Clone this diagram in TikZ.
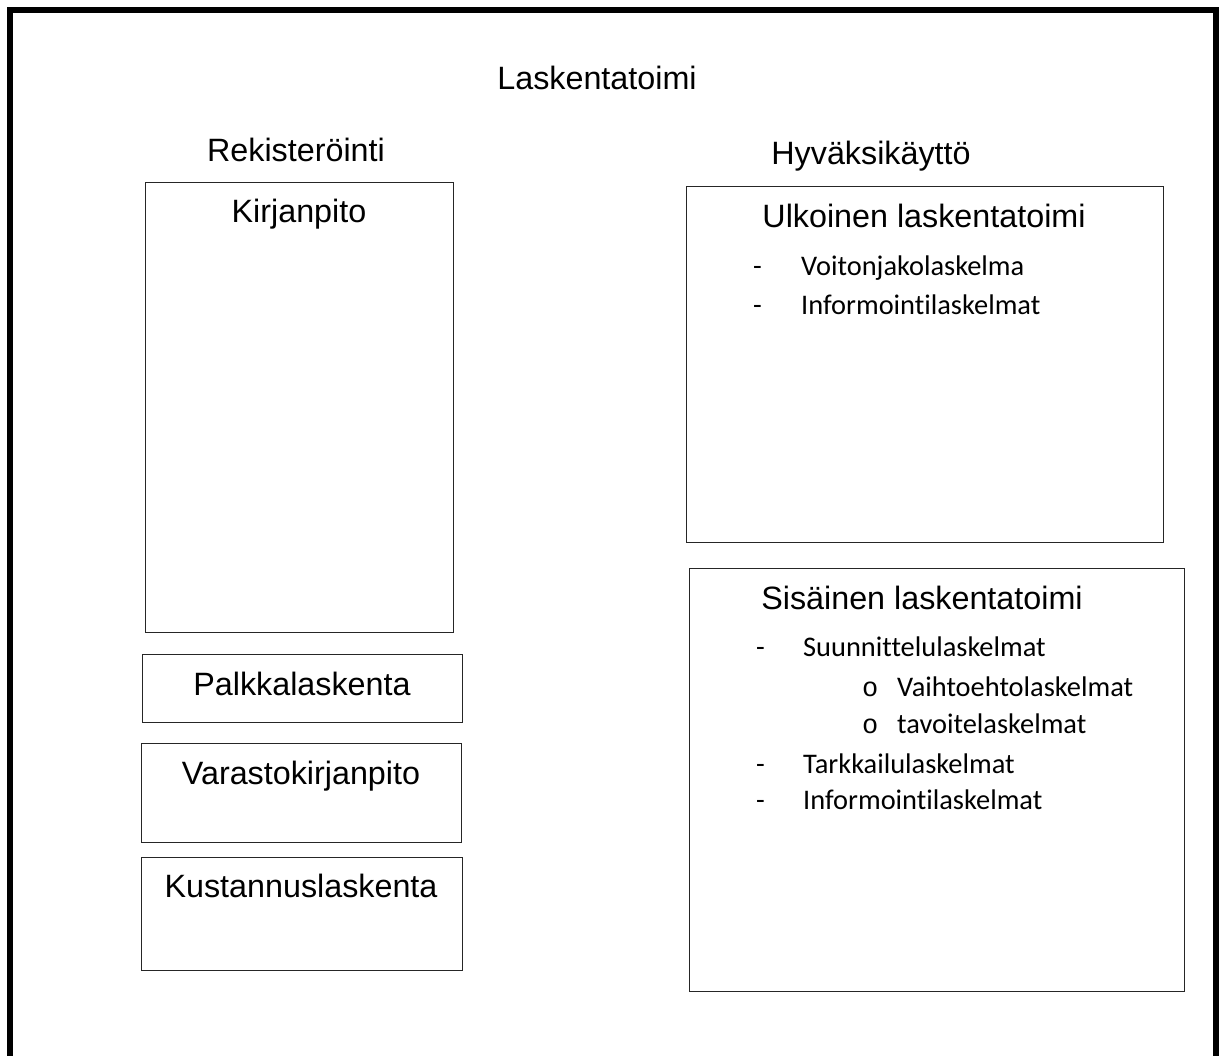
\documentclass[tikz,border=0pt]{standalone}
\usepackage{fontspec}
\setmainfont{Liberation Sans}
\newfontfamily\itemfont[Ligatures={NoCommon}]{Carlito}
\newfontfamily\monofont{Liberation Mono}
\tikzset{
  box/.style={draw=black!85, line width=1.2pt, rectangle, anchor=north west, inner sep=0pt},
  head/.style={anchor=base, inner sep=0pt, font=\fontsize{32.3}{38}\selectfont},
  itm/.style={anchor=mid west, inner sep=0pt, font=\itemfont\fontsize{28.4}{33}\selectfont},
  sub/.style={anchor=mid west, inner sep=0pt, font=\monofont\fontsize{27}{30}\selectfont},
}
\begin{document}
\begin{tikzpicture}[x=1pt,y=-1pt]
\useasboundingbox (0,0) rectangle (1222,1056);
\clip (0,0) rectangle (1222,1056);
\draw[line width=5.5pt] (10,1080) -- (10,10) -- (1216,10) -- (1216,1080);
\node[head] (title) at (597,90) {Laskentatoimi};
\node[head] (rek) at (296,162) {Rekisteröinti};
\node[head] (hyv) at (871,165) {Hyväksikäyttö};
% left boxes
\node[box, minimum width=308pt, minimum height=450pt] (kirj) at (145,182) {};
\node[head] (kirjt) at (299,223) {Kirjanpito};
\node[box, minimum width=320pt, minimum height=68pt] (palk) at (142,654) {};
\node[head] (palkt) at (302,695) {Palkkalaskenta};
\node[box, minimum width=320pt, minimum height=99pt] (vara) at (141,743) {};
\node[head] (varat) at (301,784) {Varastokirjanpito};
\node[box, minimum width=321pt, minimum height=113pt] (kust) at (141,857) {};
\node[head] (kustt) at (301,897) {Kustannuslaskenta};
% right boxes
\node[box, minimum width=477pt, minimum height=356pt] (ulk) at (686,186) {};
\node[head] (ulkt) at (924,228) {Ulkoinen laskentatoimi};
\node[itm] (ud1) at (753,273) {-};
\node[itm] (u1) at (801,273) {Voitonjakolaskelma};
\node[itm] (ud2) at (753,312) {-};
\node[itm] (u2) at (801,312) {Informointilaskelmat};
\node[box, minimum width=495pt, minimum height=423pt] (sis) at (689,568) {};
\node[head] (sist) at (922,609) {Sisäinen laskentatoimi};
\node[itm] (sd1) at (756,654) {-};
\node[itm] (s1) at (803,654) {Suunnittelulaskelmat};
\node[sub] (so1) at (862,694) {o};
\node[itm] (s11) at (897,694) {Vaihtoehtolaskelmat};
\node[sub] (so2) at (862,731) {o};
\node[itm] (s12) at (897,731) {tavoitelaskelmat};
\node[itm] (sd2) at (756,771) {-};
\node[itm] (s2) at (803,771) {Tarkkailulaskelmat};
\node[itm] (sd3) at (756,807) {-};
\node[itm] (s3) at (803,807) {Informointilaskelmat};
\end{tikzpicture}
\end{document}
